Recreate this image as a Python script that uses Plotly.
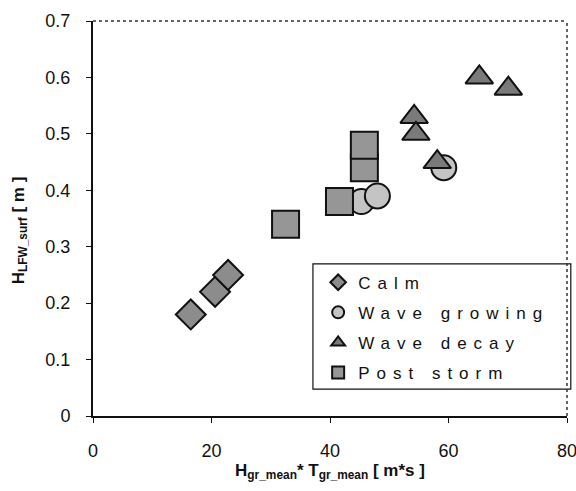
import plotly.graph_objects as go

# Wave-height data grouped by storm phase
calm_x = [16.5, 20.6, 22.8]
calm_y = [0.18, 0.22, 0.25]

growing_x = [45.3, 48.0, 59.2]
growing_y = [0.38, 0.39, 0.44]

decay_x = [65.2, 70.1, 54.2, 54.5, 58.1]
decay_y = [0.60, 0.58, 0.53, 0.50, 0.45]

post_x = [32.5, 41.6, 45.8, 45.8]
post_y = [0.34, 0.38, 0.44, 0.48]

x_ticks = [0, 20, 40, 60, 80]
y_ticks = [0, 0.1, 0.2, 0.3, 0.4, 0.5, 0.6, 0.7]

FONT = "Arial, 'Liberation Sans', sans-serif"

series = [
    ("Calm", calm_x, calm_y, "diamond", 23, "#8c8c8c"),
    ("Wave growing", growing_x, growing_y, "circle", 25, "#c4c4c4"),
    ("Wave decay", decay_x, decay_y, "triangle-up", 24, "#7a7a7a"),
    ("Post storm", post_x, post_y, "square", 27, "#969696"),
]

fig = go.Figure()
for name, xs, ys, sym, size, col in series:
    fig.add_trace(go.Scatter(
        x=xs, y=ys, mode="markers", name=name, legendgroup=name,
        marker=dict(symbol=sym, size=size, color=col,
                    line=dict(color="#111111", width=2)),
    ))

# plot frame: dotted top/right edges, legend box
fig.add_shape(type="line", xref="paper", yref="paper", x0=0, x1=1, y0=1, y1=1,
              line=dict(color="#333333", width=1.5, dash="dot"))
fig.add_shape(type="line", xref="paper", yref="paper", x0=1, x1=1, y0=0, y1=1,
              line=dict(color="#333333", width=1.5, dash="dot"))
fig.add_shape(type="rect", xref="paper", yref="paper",
              x0=0.464, x1=1.008, y0=0.068, y1=0.385,
              line=dict(color="#111111", width=1.2), fillcolor="white",
              layer="below")

# y-axis title placed explicitly, rotated
fig.add_annotation(text="<b>H<sub>LFW_surf</sub> [ m ]</b>", xref="paper", yref="paper",
                   x=-0.154, y=0.47, xanchor="center", yanchor="middle",
                   textangle=-90, showarrow=False, font=dict(size=17))

fig.update_layout(
    width=576, height=491,
    margin=dict(l=93, r=9, t=21, b=75, autoexpand=False),
    paper_bgcolor="white", plot_bgcolor="white",
    font=dict(family=FONT, size=18, color="#111111"),
    showlegend=True,
    legend=dict(x=0.475, y=0.383, xanchor="left", yanchor="top",
                bgcolor="rgba(0,0,0,0)", borderwidth=0,
                font=dict(size=17, family=FONT),
                itemsizing="constant", tracegroupgap=5),
    xaxis=dict(range=[0, 80], tickvals=x_ticks, ticktext=[str(v) for v in x_ticks],
               showgrid=False, zeroline=False, showline=True, automargin=False,
               linecolor="#111111", linewidth=2, ticks="outside", ticklen=5,
               tickcolor="#111111", ticklabelstandoff=12, ticklabeloverflow="allow",
               title=dict(text="<b>H<sub>gr_mean</sub>* T<sub>gr_mean</sub> [ m*s ]</b>",
                          font=dict(size=17), standoff=1)),
    yaxis=dict(range=[0, 0.7], tickvals=y_ticks, ticktext=[("%g" % v) for v in y_ticks],
               showgrid=False, zeroline=False, showline=True, automargin=False,
               linecolor="#111111", linewidth=2, ticks="outside", ticklen=5,
               tickcolor="#111111", ticklabelstandoff=12),
)

# widen legend lettering and let the spaced text run past the measured clip
post = """
var gd = document.getElementById('{plot_id}');
gd.querySelectorAll('.legendtext').forEach(function(t){ t.style.letterSpacing = '7px'; });
gd.querySelectorAll('.legend [clip-path]').forEach(function(g){ g.removeAttribute('clip-path'); });
"""

fig.write_html("out.html", post_script=post)
